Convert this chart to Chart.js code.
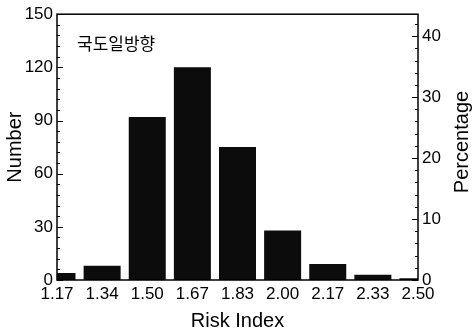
<!DOCTYPE html>
<html>
<head>
<meta charset="utf-8">
<script src="https://cdn.jsdelivr.net/npm/chart.js@4"></script>
<style>
  html, body { margin: 0; padding: 0; background: #fff; }
  #wrap { width: 476px; height: 331px; }
</style>
</head>
<body>
<div id="wrap"><canvas id="riskChart" width="476" height="331"></canvas></div>
<script>
// ===== Data =====
const riskLabels = ["1.17", "1.34", "1.50", "1.67", "1.83", "2.00", "2.17", "2.33", "2.50"];
const counts = [4, 8, 92, 120, 75, 28, 9, 3, 1];
const countTicks = [0, 30, 60, 90, 120, 150];
const percentTicks = [0, 10, 20, 30, 40];
const percentMax = 43.6;
const noteText = "국도일방향";
const rightTitle = "Percentage";

const FONT = "'Liberation Sans', Arial, sans-serif";

// inward tick marks + box frame + note text + right title (reads bottom to top)
const framePlugin = {
  id: "frame",
  afterDatasetsDraw(chart) {
    const { ctx, chartArea: a, scales } = chart;
    ctx.save();
    ctx.strokeStyle = "#000";
    ctx.lineWidth = 1.5;
    ctx.strokeRect(a.left, a.top, a.right - a.left, a.bottom - a.top);

    ctx.lineWidth = 1;
    ctx.beginPath();
    // left axis: minor every 6, major every 30
    for (let v = 0; v <= 150; v += 6) {
      const y = Math.round(scales.y.getPixelForValue(v)) + 0.5;
      const len = v % 30 === 0 ? 6 : 3;
      ctx.moveTo(a.left, y);
      ctx.lineTo(a.left + len, y);
    }
    // right axis: minor every 2, major every 10
    for (let v = 0; v <= percentMax; v += 2) {
      const y = Math.round(scales.y2.getPixelForValue(v)) + 0.5;
      const len = v % 10 === 0 ? 6 : 3;
      ctx.moveTo(a.right, y);
      ctx.lineTo(a.right - len, y);
    }
    ctx.stroke();

    ctx.fillStyle = "#000";
    ctx.font = "17px 'Noto Sans CJK KR', sans-serif";
    ctx.textBaseline = "middle";
    ctx.fillText(noteText, a.left + 20, a.top + 29);

    ctx.translate(462, 142);
    ctx.rotate(-Math.PI / 2);
    ctx.textAlign = "center";
    ctx.font = "20px " + FONT;
    ctx.fillText(rightTitle, 0, 0);
    ctx.restore();
  }
};

const ctx = document.getElementById("riskChart");
new Chart(ctx, {
  type: "bar",
  data: {
    labels: riskLabels,
    datasets: [
      {
        data: counts,
        backgroundColor: "#0c0c0c",
        borderWidth: 0,
        barPercentage: 0.82,
        categoryPercentage: 1.0,
        yAxisID: "y",
      },
    ],
  },
  options: {
    responsive: false,
    animation: false,
    layout: { padding: { top: 12, left: 0, right: 0, bottom: 0 } },
    plugins: {
      legend: { display: false },
      tooltip: { enabled: false },
    },
    scales: {
      x: {
        offset: false,
        grid: { display: false, drawTicks: false },
        border: { display: false },
        ticks: { color: "#000", font: { family: FONT, size: 17 }, padding: 4, maxRotation: 0, autoSkip: false },
        title: { display: true, text: "Risk Index", color: "#000", font: { family: FONT, size: 20, lineHeight: 1 }, padding: { top: 0, bottom: 0 } },
        afterFit: s => { s.height = 51; },
      },
      y: {
        position: "left",
        min: 0,
        max: 150,
        grid: { display: false, drawTicks: false },
        border: { display: false },
        afterBuildTicks: s => { s.ticks = countTicks.map(v => ({ value: v })); },
        ticks: { color: "#000", font: { family: FONT, size: 17 }, padding: 4 },
        title: { display: true, text: "Number", color: "#000", font: { family: FONT, size: 20 }, padding: { top: 3, bottom: 0 } },
        afterFit: s => { s.width = 57; },
      },
      y2: {
        position: "right",
        min: 0,
        max: percentMax,
        grid: { display: false, drawTicks: false },
        border: { display: false },
        afterBuildTicks: s => { s.ticks = percentTicks.map(v => ({ value: v })); },
        ticks: { color: "#000", font: { family: FONT, size: 17 }, padding: 4 },
        title: { display: false },
        afterFit: s => { s.width = 58; },
      },
    },
  },
  plugins: [framePlugin],
});
</script>
</body>
</html>
